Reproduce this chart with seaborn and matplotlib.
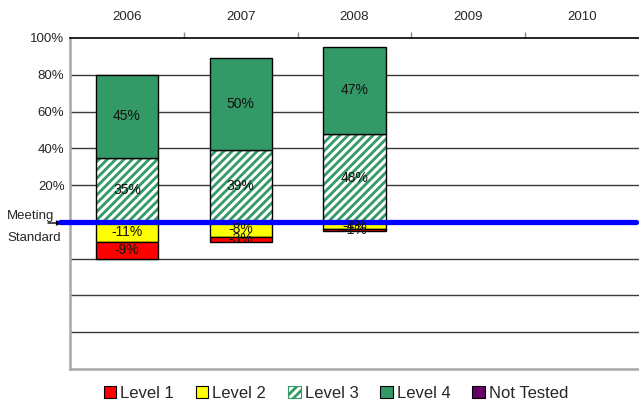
import matplotlib
matplotlib.use("Agg")
import matplotlib.pyplot as plt
from matplotlib.patches import Patch
import numpy as np
import pandas as pd
import seaborn as sns

# ---- data ----
years = ["2006", "2007", "2008", "2009", "2010"]
data_years = ["2006", "2007", "2008"]
level1 = [-9, -3, -1]
level2 = [-11, -8, -4]
level3 = [35, 39, 48]
level4 = [45, 50, 47]
ytick_vals = [20, 40, 60, 80, 100]
ytick_labels = ["20%", "40%", "60%", "80%", "100%"]
legend_labels = ["Level 1", "Level 2", "Level 3", "Level 4", "Not Tested"]

GREEN = "#339966"
YELLOW = "#FFFF00"
RED = "#FF0000"
PURPLE = "#660066"
BLUE = "#0000FF"

sns.set_theme(style="white")
plt.rcParams["font.family"] = ["Liberation Sans", "DejaVu Sans"]
plt.rcParams["hatch.linewidth"] = 2.0

df = pd.DataFrame({"year": data_years, "l1": level1, "l2": level2,
                   "l3": level3, "l4": level4})

fig = plt.figure(figsize=(6.39, 4.08), dpi=100)
ax = fig.add_axes([70 / 639, 39 / 408, 569 / 639, 331 / 408])

W = 0.545
l2 = np.array(level2, dtype=float)
l3 = np.array(level3, dtype=float)

# gridlines first
for g in [80, 60, 40, 20, -20, -40, -60]:
    ax.axhline(g, color="#3a3a3a", lw=1.0, zorder=0)

# Level 3 (hatched) fill
sns.barplot(data=df, x="year", y="l3", order=years, color="white",
            width=W, ax=ax, saturation=1, linewidth=0, edgecolor=GREEN,
            hatch="////", zorder=2)
# Level 3 outline
sns.barplot(data=df, x="year", y="l3", order=years, fill=False,
            width=W, ax=ax, linewidth=1.0, edgecolor="black", zorder=3)
# Level 4
sns.barplot(data=df, x="year", y="l4", order=years, color=GREEN, bottom=l3,
            width=W, ax=ax, saturation=1, linewidth=1.0, edgecolor="black", zorder=3)
# Level 2
sns.barplot(data=df, x="year", y="l2", order=years, color=YELLOW,
            width=W, ax=ax, saturation=1, linewidth=1.0, edgecolor="black", zorder=3)
# Level 1
sns.barplot(data=df, x="year", y="l1", order=years, color=RED, bottom=l2,
            width=W, ax=ax, saturation=1, linewidth=1.0, edgecolor="black", zorder=3)

conts = ax.containers
# containers: 0 hatch fill, 1 outline, 2 l4, 3 l2, 4 l1
label_sets = [(conts[1], level3), (conts[2], level4), (conts[3], level2), (conts[4], level1)]
for cont, vals in label_sets:
    ax.bar_label(cont, labels=[f"{v}%" for v in vals], label_type="center",
                 fontsize=10, color="#111111", zorder=6)

# meeting standard line
ax.axhline(0, xmin=-0.018, xmax=0.995, color=BLUE, lw=3.8, zorder=5, clip_on=False)

ax.set_ylim(-80, 100)
ax.set_xlim(-0.5, 4.5)
ax.set_xlabel("")
ax.set_ylabel("")
ax.set_yticks(ytick_vals)
ax.set_yticklabels(ytick_labels, fontsize=9.5)
ax.tick_params(axis="y", length=0, pad=4)

ax.xaxis.tick_top()
ax.set_xticks(range(len(years)))
ax.set_xticklabels(years, fontsize=9.5)
ax.set_xticks([0.5, 1.5, 2.5, 3.5], minor=True)
ax.tick_params(axis="x", which="major", length=0, pad=11, top=True, bottom=False)
ax.tick_params(axis="x", which="minor", length=4, width=1, color="#888888",
               direction="out", top=True, bottom=False)

ax.spines["right"].set_visible(False)
ax.spines["top"].set_color("black")
ax.spines["top"].set_linewidth(1.2)
ax.spines["left"].set_color("#a8a8a8")
ax.spines["left"].set_linewidth(1.8)
ax.spines["bottom"].set_color("#a8a8a8")
ax.spines["bottom"].set_linewidth(1.8)

# Meeting Standard annotation
fig.text(7 / 639, 1 - 216 / 408, "Meeting", fontsize=9.5, va="center", ha="left")
fig.text(7 / 639, 1 - 238 / 408, "Standard", fontsize=9.5, va="center", ha="left")
ax.annotate("", xy=(62 / 639, 1 - 223 / 408), xytext=(48 / 639, 1 - 223 / 408),
            xycoords="figure fraction", textcoords="figure fraction",
            arrowprops=dict(arrowstyle="-|>", color="black", lw=1.0,
                            mutation_scale=7, shrinkA=0, shrinkB=0))

# Legend
handles = [
    Patch(facecolor=RED, edgecolor="black", lw=0.8),
    Patch(facecolor=YELLOW, edgecolor="black", lw=0.8),
    Patch(facecolor="white", edgecolor=GREEN, hatch="////", lw=0.8),
    Patch(facecolor=GREEN, edgecolor="black", lw=0.8),
    Patch(facecolor=PURPLE, edgecolor="black", lw=0.8),
]
fig.legend(handles, legend_labels, loc="center", bbox_to_anchor=(336 / 639, 15 / 408),
           ncol=5, frameon=False, fontsize=12, handlelength=0.75, handleheight=0.75,
           handletextpad=0.25, columnspacing=1.3, borderaxespad=0)

fig.savefig("out.png", dpi=100)
